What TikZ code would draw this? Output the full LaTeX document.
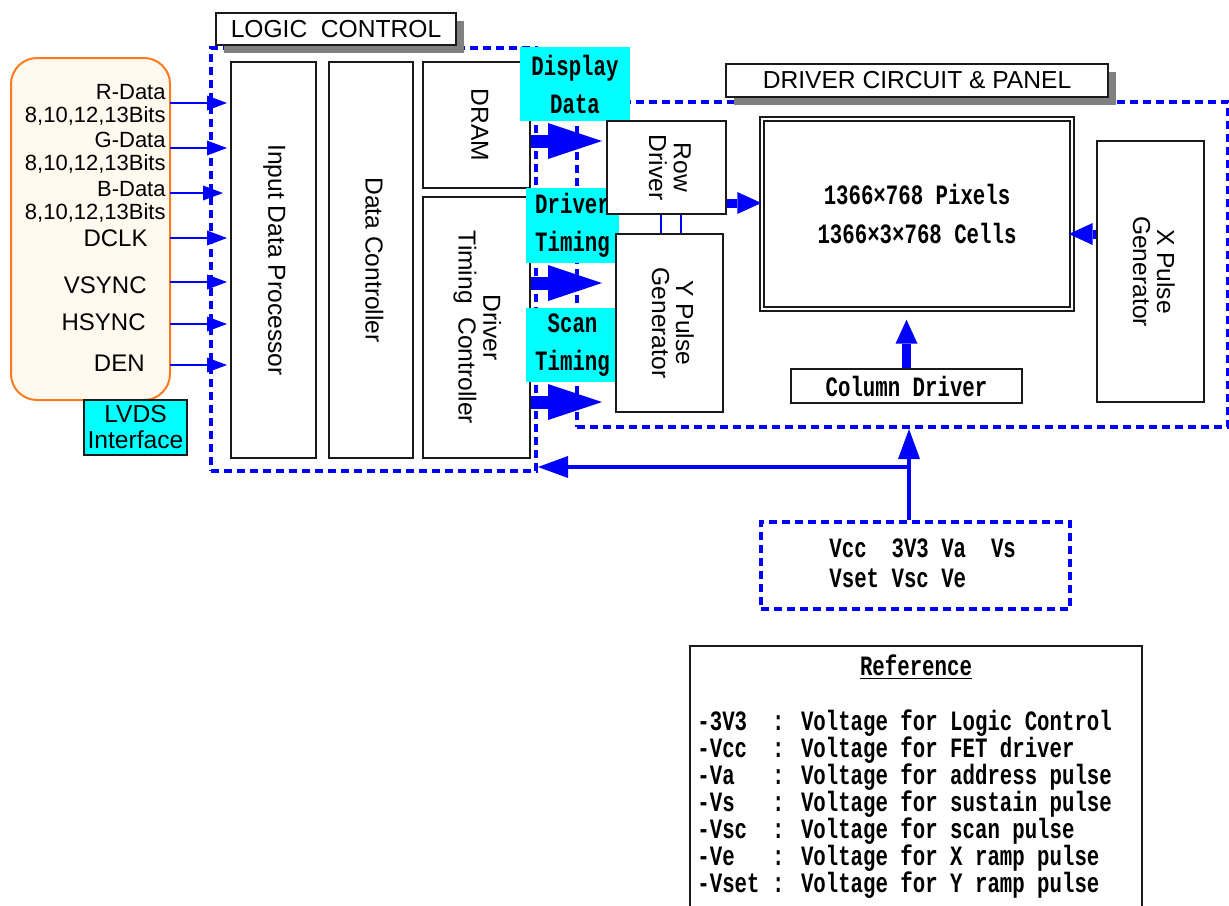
\documentclass[tikz,border=0pt]{standalone}
\usepackage{fontspec}
\setmainfont{Liberation Sans}
\newfontfamily\monofont[FakeStretch=0.74]{Liberation Mono}
\usetikzlibrary{arrows.meta,shadows}
\definecolor{Wire}{HTML}{0000FF}
\definecolor{Tag}{HTML}{00FFFF}
\definecolor{Edge}{HTML}{FF7A1F}
\definecolor{Cream}{HTML}{FFF9EF}
\definecolor{Shade}{HTML}{808080}
\definecolor{Frame}{HTML}{1A1A1A}
\newcommand\boxfont{\fontsize{12.3}{11.5}\selectfont}
\newcommand\titlefont{\fontsize{12.3}{13}\selectfont}
\newcommand\sigfont{\fontsize{11}{11.5}\selectfont}
\newcommand\bigsigfont{\fontsize{12}{14}\selectfont}
\newcommand\tagfont{\monofont\bfseries\fontsize{14}{19}\selectfont}
\newcommand\cellfont{\monofont\bfseries\fontsize{14}{19.5}\selectfont}
\newcommand\railfont{\monofont\bfseries\fontsize{14}{15}\selectfont}
\newcommand\legendfont{\monofont\bfseries\fontsize{14}{13.5}\selectfont}
\newcommand\vtext[1]{\rotatebox{-90}{\begin{tabular}{@{}c@{}}#1\end{tabular}}}
\tikzset{
  block/.style={
    draw=Frame, line width=1pt, fill=white, inner sep=0pt, font=\boxfont
  },
  panelbox/.style={
    block, double=white, double distance=1.2pt, line width=0.7pt,
    align=center, font=\cellfont
  },
  region/.style={
    draw=Wire, line width=2pt, dash pattern=on 4pt off 2.5pt, inner sep=0pt
  },
  title/.style={
    draw=Frame, line width=1pt, fill=white, inner sep=0pt, font=\titlefont,
    drop shadow={shadow xshift=3.75pt, shadow yshift=-4pt, fill=Shade, opacity=1}
  },
  tag/.style={fill=Tag, inner sep=0pt, align=center, font=\tagfont},
  source/.style={draw=Edge, line width=1pt, fill=Cream, rounded corners=13pt},
  sig/.style={inner sep=0pt, align=right, font=\sigfont},
  sigflow/.style={-{Triangle[length=10pt,width=7.5pt,line width=0pt]}, line width=1pt, draw=Wire},
  busflow/.style={-{Triangle[length=27pt,width=18pt,line width=0pt]}, line width=6.5pt, draw=Wire},
  panelflow/.style={-{Triangle[length=12pt,width=11pt,line width=0pt]}, line width=4.5pt, draw=Wire},
  powerflow/.style={-{Triangle[length=15pt,width=11pt,line width=0pt]}, line width=2.2pt, draw=Wire},
  link/.style={draw=Wire, line width=0.8pt}
}
\begin{document}
\begin{tikzpicture}[x=0.5pt,y=-0.5pt]
  \useasboundingbox (0,0) rectangle (1229,905);
  % dashed regions
  \node[region, minimum width=162.5pt, minimum height=211.5pt] (logic) at (373.5,259.5) {};
  \node[region, minimum width=325.5pt, minimum height=162.5pt] (drvckt) at (902.5,264.5) {};
  \node[title, minimum width=120pt, minimum height=16pt] (logictitle) at (336,29) {LOGIC\ \ CONTROL};
  \node[title, minimum width=191pt, minimum height=16.5pt] (drvtitle) at (917,80.5) {DRIVER CIRCUIT \& PANEL};

  % lvds input side
  \node[source, minimum width=79.5pt, minimum height=171pt] (lvds) at (90.5,229) {};
  \node[tag, draw=Frame, line width=1pt, minimum width=51.5pt, minimum height=27.5pt, font=\titlefont] (lvdsif) at (135.5,427.5) {LVDS\\Interface};
  \node[sig, anchor=east] (rlbl) at (166,104.5) {R-Data\hspace{5pt}\\8,10,12,13Bits};
  \node[sig, anchor=east] (glbl) at (166,152.5) {G-Data\hspace{6pt}\\8,10,12,13Bits};
  \node[sig, anchor=east] (blbl) at (166,201.5) {B-Data\hspace{6pt}\\8,10,12,13Bits};
  \node[sig, anchor=east, font=\bigsigfont] (clbl) at (148,238) {DCLK};
  \node[sig, anchor=east, font=\bigsigfont] (vlbl) at (147,285) {VSYNC};
  \node[sig, anchor=east, font=\bigsigfont] (hlbl) at (146,322) {HSYNC};
  \node[sig, anchor=east, font=\bigsigfont] (elbl) at (145,363) {DEN};

  % logic control blocks
  \node[block, minimum width=42.5pt, minimum height=198pt] (idp) at (273.5,260) {\vtext{Input Data Processor}};
  \node[block, minimum width=42pt, minimum height=198pt] (dctl) at (371,260) {\vtext{Data Controller}};
  \node[block, minimum width=53.5pt, minimum height=63pt] (dram) at (476.5,125) {\vtext{DRAM}};
  \node[block, minimum width=53.5pt, minimum height=130.5pt] (dtc) at (476.5,327.5) {\vtext{Driver\\Timing\ \ Controller}};

  % bus tags
  \node[tag, minimum width=55pt, minimum height=37pt] (dispdata) at (575,84) {Display\\Data};
  \node[tag, minimum width=46.5pt, minimum height=37.5pt] (drvtim) at (572.5,225.5) {Driver\\Timing};
  \node[tag, minimum width=46.5pt, minimum height=37pt] (scantim) at (572.5,345) {Scan\\Timing};

  % driver circuit and panel
  \node[block, minimum width=59.5pt, minimum height=46.5pt] (rowdrv) at (666.5,167.5) {\vtext{Row\\Driver}};
  \node[block, minimum width=53.5pt, minimum height=89pt] (ypg) at (669.5,323) {\vtext{Y Pulse\\Generator}};
  \node[panelbox, minimum width=155pt, minimum height=95pt] (panel) at (917,214) {1366×768 Pixels\\1366×3×768 Cells};
  \node[block, minimum width=53.5pt, minimum height=130.5pt] (xpg) at (1150.5,271.5) {\vtext{X Pulse\\Generator}};
  \node[block, minimum width=115.5pt, minimum height=17pt, font=\tagfont] (coldrv) at (906.5,386) {Column Driver};

  % power rails
  \node[region, minimum width=154.5pt, minimum height=43.5pt] (power) at (915.5,565.5) {};
  \node[anchor=west, align=left, inner sep=0pt, font=\railfont] (rails) at (829,563) {Vcc\ \ 3V3 Va\ \ Vs\\Vset Vsc Ve};

  % legend
  \node[block, anchor=north west, minimum width=226pt, minimum height=140pt] (refbox) at (689,645) {};
  \node[inner sep=0pt, font=\tagfont] (reftitle) at (916,667) {\underline{Reference}};
  \node[anchor=base west, align=left, inner sep=0pt, font=\legendfont] (legend) at (697,892) {%
    -3V3\ \ : Voltage for Logic Control\\
    -Vcc\ \ : Voltage for FET driver\\
    -Va\ \ \ : Voltage for address pulse\\
    -Vs\ \ \ : Voltage for sustain pulse\\
    -Vsc\ \ : Voltage for scan pulse\\
    -Ve\ \ \ : Voltage for X ramp pulse\\
    -Vset : Voltage for Y ramp pulse};

  % input signals
  \coordinate (pR) at (170,103);
  \coordinate (pG) at (170,148);
  \coordinate (pB) at (170,193);
  \coordinate (pC) at (170,238);
  \coordinate (pV) at (170,282);
  \coordinate (pH) at (170,324);
  \coordinate (pE) at (170,365);
  \draw[sigflow, shorten >=1.5pt] (pR) -- (idp.west |- pR);
  \draw[sigflow, shorten >=1.5pt] (pG) -- (idp.west |- pG);
  \draw[sigflow, shorten >=3.5pt] (pB) -- (idp.west |- pB);
  \draw[sigflow, shorten >=1.5pt] (pC) -- (idp.west |- pC);
  \draw[sigflow, shorten >=1.5pt] (pV) -- (idp.west |- pV);
  \draw[sigflow, shorten >=1.5pt] (pH) -- (idp.west |- pH);
  \draw[sigflow, shorten >=1.5pt] (pE) -- (idp.west |- pE);

  % buses into the driver circuit
  \coordinate (dd) at (0,141);
  \coordinate (dt) at (0,283);
  \coordinate (st) at (0,402);
  \draw[busflow, shorten >=2pt] (dram.east |- dd) -- (rowdrv.west |- dd);
  \draw[busflow, shorten >=6.5pt] (dtc.east |- dt) -- (ypg.west |- dt);
  \draw[busflow, shorten >=6.5pt] (dtc.east |- st) -- (ypg.west |- st);

  \coordinate (ta) at (661,0);
  \coordinate (tb) at (681,0);
  \draw[link] (rowdrv.south -| ta) -- (ypg.north -| ta);
  \draw[link] (rowdrv.south -| tb) -- (ypg.north -| tb);

  \coordinate (rp) at (0,203);
  \coordinate (xp) at (0,234);
  \draw[panelflow] (rowdrv.east |- rp) -- (panel.west |- rp);
  \draw[panelflow, shorten >=-2pt] (xpg.west |- xp) -- (panel.east |- xp);
  \draw[panelflow, shorten >=5pt] (coldrv.north) -- (panel.south -| coldrv.north);

  % supply feed
  \coordinate (jn) at (909,467);
  \draw[powerflow] (power.north -| jn) -- (drvckt.south -| jn);
  \draw[powerflow] (jn) -- (logic.east |- jn);
\end{tikzpicture}
\end{document}
